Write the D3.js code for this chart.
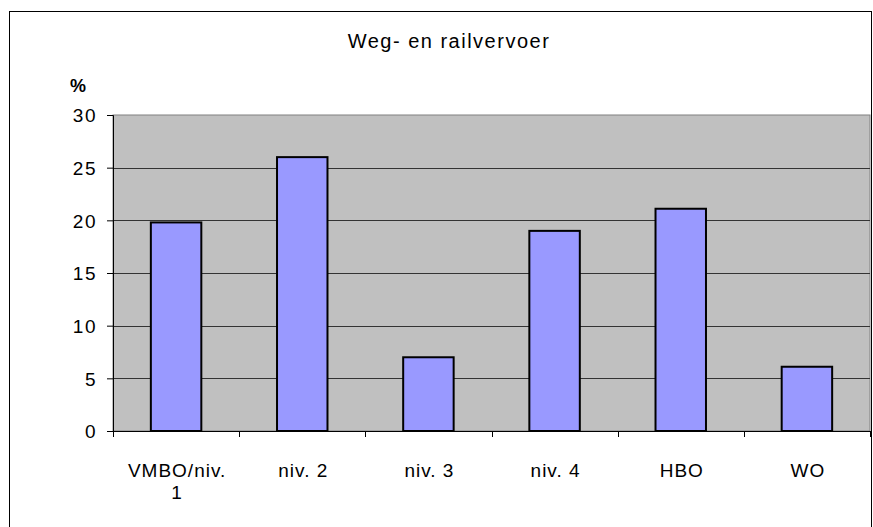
<!DOCTYPE html>
<html>
<head>
<meta charset="utf-8">
<script src="https://cdn.jsdelivr.net/npm/d3@7"></script>
<style>
  body { margin: 0; background: #fff; }
  text { font-family: "Liberation Sans", Arial, sans-serif; fill: #000; }
</style>
</head>
<body>
<div id="chart"></div>
<script>
// data
var categories = ["VMBO/niv. 1", "niv. 2", "niv. 3", "niv. 4", "HBO", "WO"];
var values = [19.8, 26, 7, 19, 21.1, 6.1];
var yTicks = [0, 5, 10, 15, 20, 25, 30];

var width = 873, height = 527;
var plot = { left: 113, right: 870, top: 115, bottom: 431 };

var svg = d3.select("#chart").append("svg")
  .attr("width", width)
  .attr("height", height);

// outer chart border
svg.append("rect")
  .attr("x", 9.5).attr("y", 11.5)
  .attr("width", 862).attr("height", 530)
  .attr("fill", "none")
  .attr("stroke", "#000")
  .attr("stroke-width", 1);

var x = d3.scaleBand()
  .domain(categories)
  .range([plot.left, plot.right])
  .paddingInner(0.6)
  .paddingOuter(0.3);

var y = d3.scaleLinear()
  .domain([0, 30])
  .range([plot.bottom, plot.top]);

// plot area background
svg.append("rect")
  .attr("x", plot.left).attr("y", plot.top)
  .attr("width", plot.right - plot.left)
  .attr("height", plot.bottom - plot.top)
  .attr("fill", "#c0c0c0")
  .attr("stroke", "#808080")
  .attr("stroke-width", 1);

// gridlines
svg.selectAll(".grid")
  .data(yTicks.filter(function (d) { return d > 0 && d < 30; }))
  .enter()
  .append("line")
  .attr("x1", plot.left).attr("x2", plot.right)
  .attr("y1", function (d) { return Math.round(y(d)) + 0.5; })
  .attr("y2", function (d) { return Math.round(y(d)) + 0.5; })
  .attr("stroke", "#333")
  .attr("stroke-width", 1);

// bars
svg.selectAll(".bar")
  .data(values)
  .enter()
  .append("rect")
  .attr("x", function (d, i) { return x(categories[i]); })
  .attr("y", function (d) { return y(d); })
  .attr("width", x.bandwidth())
  .attr("height", function (d) { return y(0) - y(d); })
  .attr("fill", "#9999ff")
  .attr("stroke", "#000")
  .attr("stroke-width", 2);

// y axis
var yAxis = svg.append("g")
  .attr("transform", "translate(" + plot.left + ",0)")
  .call(d3.axisLeft(y).tickValues(yTicks).tickSize(6).tickPadding(10));
yAxis.select(".domain").attr("stroke", "#000");
yAxis.selectAll("line").attr("stroke", "#000");
yAxis.selectAll("text")
  .style("font-size", "19px")
  .style("letter-spacing", "1.5px")
  .attr("dy", "0.36em");

// x axis (ticks between categories)
var xTicks = d3.range(categories.length + 1).map(function (i) { return plot.left + i * (plot.right - plot.left) / categories.length; });
svg.append("line")
  .attr("x1", plot.left).attr("x2", plot.right)
  .attr("y1", plot.bottom + 0.5).attr("y2", plot.bottom + 0.5)
  .attr("stroke", "#000");
svg.selectAll(".xtick")
  .data(xTicks)
  .enter()
  .append("line")
  .attr("x1", function (d) { return Math.round(d) + 0.5; })
  .attr("x2", function (d) { return Math.round(d) + 0.5; })
  .attr("y1", plot.bottom).attr("y2", plot.bottom + 6)
  .attr("stroke", "#000");

// category labels, wrapped like the original
var labels = svg.selectAll(".xlabel")
  .data(categories)
  .enter()
  .append("text")
  .attr("text-anchor", "middle")
  .style("font-size", "19px")
  .style("letter-spacing", "1px")
  .attr("transform", function (d) { return "translate(" + (x(d) + x.bandwidth() / 2 + 1) + ",477)"; });
labels.each(function (d) {
  var lines = d === "VMBO/niv. 1" ? ["VMBO/niv.", "1"] : [d];
  d3.select(this).selectAll("tspan")
    .data(lines)
    .enter()
    .append("tspan")
    .attr("x", 0)
    .attr("dy", function (l, i) { return i === 0 ? 0 : 22; })
    .text(function (l) { return l; });
});

// title
svg.append("text")
  .attr("x", 449).attr("y", 48)
  .attr("text-anchor", "middle")
  .style("font-size", "20px")
  .style("letter-spacing", "1.5px")
  .text("Weg- en railvervoer");

// unit label
svg.append("text")
  .attr("x", 70).attr("y", 92)
  .style("font-size", "18px")
  .style("font-weight", "bold")
  .text("%");
</script>
</body>
</html>
